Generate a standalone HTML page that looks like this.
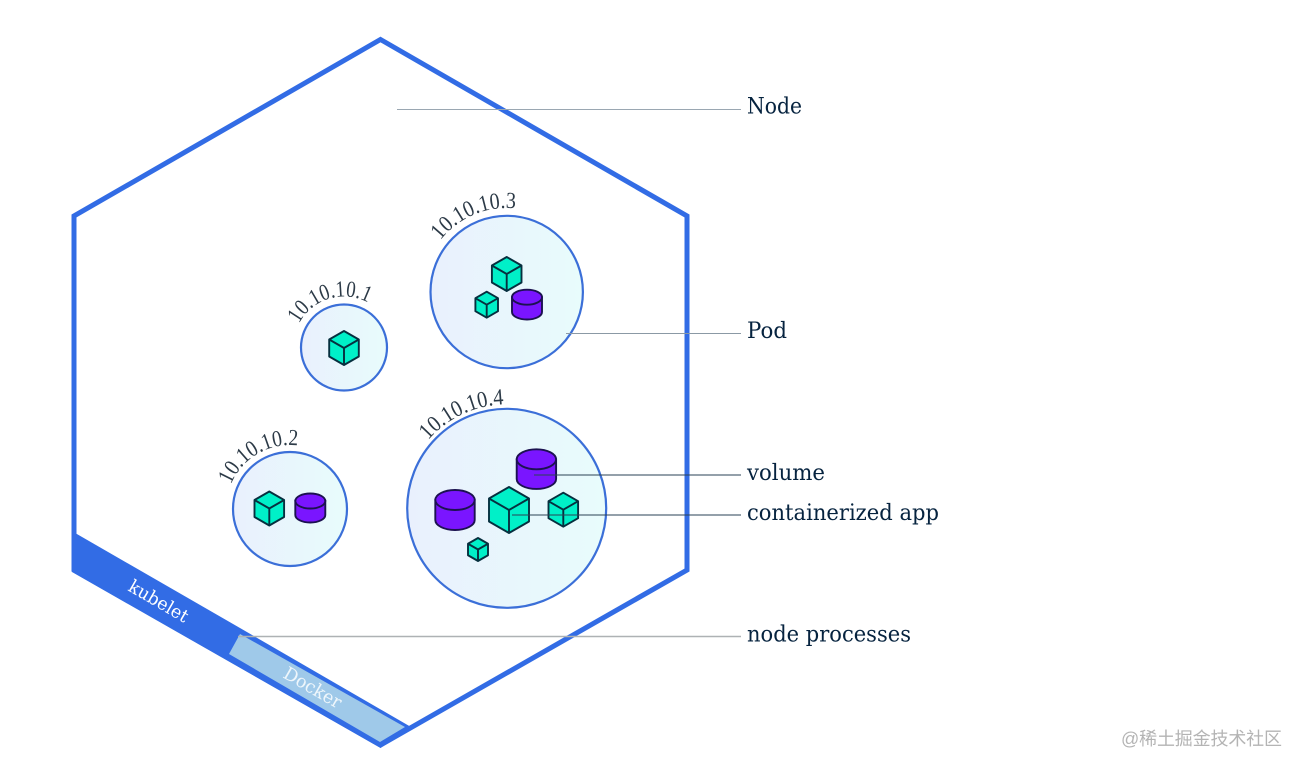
<!DOCTYPE html>
<html lang="zh">
<head>
<meta charset="utf-8">
<title>Kubernetes Node</title>
<style>
html,body{margin:0;padding:0;background:#fff;width:1303px;height:770px;overflow:hidden}
svg{display:block}
.lab{font-family:"DejaVu Serif","Liberation Serif",serif;font-size:22px;fill:#06233f}
.ip{font-family:"Liberation Serif",serif;font-size:23px;fill:#2c3a47}
.cube polygon{fill:#00f0c8;stroke:#06303f;stroke-width:1.9;stroke-linejoin:round}
.cube path{fill:none;stroke:#06303f;stroke-width:1.9}
.cyl path,.cyl ellipse{fill:#7a15ff;stroke:#1c1250;stroke-width:1.9}
</style>
</head>
<body>
<svg width="1303" height="770" viewBox="0 0 1303 770" xmlns="http://www.w3.org/2000/svg">
<defs>
<linearGradient id="g" x1="0" y1="0" x2="1" y2="0">
<stop offset="0" stop-color="#e9f0fd"/>
<stop offset="1" stop-color="#e8fcfc"/>
</linearGradient>
<path id="a1" d="M299 323.6 A51 51 0 0 1 385 317"/>
<path id="a2" d="M230.9 484.5 A64 64 0 0 1 330 459"/>
<path id="a3" d="M440.5 240.3 A84 84 0 0 1 560 227"/>
<path id="a4" d="M428.2 440.1 A104 104 0 0 1 560 419"/>
</defs>

<!-- node hexagon -->
<polygon points="380.5,39.5 687,216 687,570 380.5,745 74,570 74,216" fill="#fff" stroke="#326ce5" stroke-width="5"/>
<!-- process band -->
<polygon points="72,533 76,533.5 240,628 411,727 380.5,748 72,572" fill="#326ce5"/>
<polygon points="240,634 405,727 380,742 229,654" fill="#9fc9e9"/>
<text class="lab" transform="translate(127,590) rotate(30)" style="font-size:18px;fill:#fff" textLength="66" lengthAdjust="spacingAndGlyphs">kubelet</text>
<text class="lab" transform="translate(282,677) rotate(30)" style="font-size:18px;fill:#eef6fb" textLength="64" lengthAdjust="spacingAndGlyphs">Docker</text>

<!-- pods -->
<circle cx="344" cy="347.5" r="43" fill="url(#g)" stroke="#3b6fd8" stroke-width="2.2"/>
<circle cx="290" cy="509" r="57" fill="url(#g)" stroke="#3b6fd8" stroke-width="2.2"/>
<circle cx="506.7" cy="292" r="76.2" fill="url(#g)" stroke="#3b6fd8" stroke-width="2.2"/>
<circle cx="506.7" cy="508.3" r="99.5" fill="url(#g)" stroke="#3b6fd8" stroke-width="2.2"/>

<text class="ip"><textPath href="#a1" textLength="80" lengthAdjust="spacingAndGlyphs">10.10.10.1</textPath></text>
<text class="ip"><textPath href="#a2" textLength="83" lengthAdjust="spacingAndGlyphs">10.10.10.2</textPath></text>
<text class="ip"><textPath href="#a3" textLength="85" lengthAdjust="spacingAndGlyphs">10.10.10.3</textPath></text>
<text class="ip"><textPath href="#a4" textLength="86" lengthAdjust="spacingAndGlyphs">10.10.10.4</textPath></text>

<!-- cylinders -->
<g class="cyl">
<path d="M295.3 501 V515 A15 7.5 0 0 0 325.3 515 V501 Z"/><ellipse cx="310.3" cy="501" rx="15" ry="7.5"/>
<path d="M512 297.2 V312 A15 7.5 0 0 0 542 312 V297.2 Z"/><ellipse cx="527" cy="297.2" rx="15" ry="7.5"/>
<path d="M516.7 459.3 V479 A19.7 10 0 0 0 556.1 479 V459.3 Z"/><ellipse cx="536.4" cy="459.3" rx="19.7" ry="10"/>
<path d="M435.3 500 V520 A19.7 10 0 0 0 474.7 520 V500 Z"/><ellipse cx="455" cy="500" rx="19.7" ry="10"/>
</g>

<!-- cubes -->
<g class="cube">
<polygon points="344,331 358.8,339.5 358.8,356.5 344,365 329.2,356.5 329.2,339.5"/><path d="M329.2 339.5 L344 348 L358.8 339.5 M344 348 V365"/>
<polygon points="269.3,491.5 284.1,500 284.1,517 269.3,525.5 254.5,517 254.5,500"/><path d="M254.5 500 L269.3 508.5 L284.1 500 M269.3 508.5 V525.5"/>
<polygon points="506.7,257 521.5,265.5 521.5,282.5 506.7,291 491.9,282.5 491.9,265.5"/><path d="M491.9 265.5 L506.7 274 L521.5 265.5 M506.7 274 V291"/>
<polygon points="486.7,291.7 498,298.2 498,311.2 486.7,317.7 475.4,311.2 475.4,298.2"/><path d="M475.4 298.2 L486.7 304.7 L498 298.2 M486.7 304.7 V317.7"/>
<polygon points="509,487 529,498.5 529,521.5 509,533 489,521.5 489,498.5"/><path d="M489 498.5 L509 510 L529 498.5 M509 510 V533"/>
<polygon points="563.3,492.7 578.1,501.2 578.1,518.2 563.3,526.7 548.5,518.2 548.5,501.2"/><path d="M548.5 501.2 L563.3 509.7 L578.1 501.2 M563.3 509.7 V526.7"/>
<polygon points="478,538 488,543.75 488,555.25 478,561 468,555.25 468,543.75"/><path d="M468 543.75 L478 549.5 L488 543.75 M478 549.5 V561"/>
</g>

<!-- leader lines -->
<g fill="none">
<line x1="397" y1="109.5" x2="741" y2="109.5" stroke="#9aa7b2" stroke-width="1.1"/>
<line x1="566" y1="333.5" x2="741" y2="333.5" stroke="#8b99a5" stroke-width="1.1"/>
<line x1="534" y1="475" x2="741" y2="475" stroke="#2a4254" stroke-width="1"/>
<line x1="512" y1="515" x2="741" y2="515" stroke="#2a4254" stroke-width="1"/>
<line x1="238" y1="636.5" x2="741" y2="636.5" stroke="#aeb2b4" stroke-width="1.6"/>
</g>

<!-- labels -->
<text class="lab" x="747" y="113.5" textLength="55" lengthAdjust="spacingAndGlyphs">Node</text>
<text class="lab" x="747" y="338" textLength="40" lengthAdjust="spacingAndGlyphs">Pod</text>
<text class="lab" x="747" y="480" textLength="78" lengthAdjust="spacingAndGlyphs">volume</text>
<text class="lab" x="747" y="520" textLength="192" lengthAdjust="spacingAndGlyphs">containerized app</text>
<text class="lab" x="747" y="641.5" textLength="164" lengthAdjust="spacingAndGlyphs">node processes</text>

<text x="1121" y="745" font-family="'Liberation Sans','Noto Sans CJK SC',sans-serif" font-size="18" fill="#b4b4b4" textLength="161">@稀土掘金技术社区</text>
</svg>
</body>
</html>
